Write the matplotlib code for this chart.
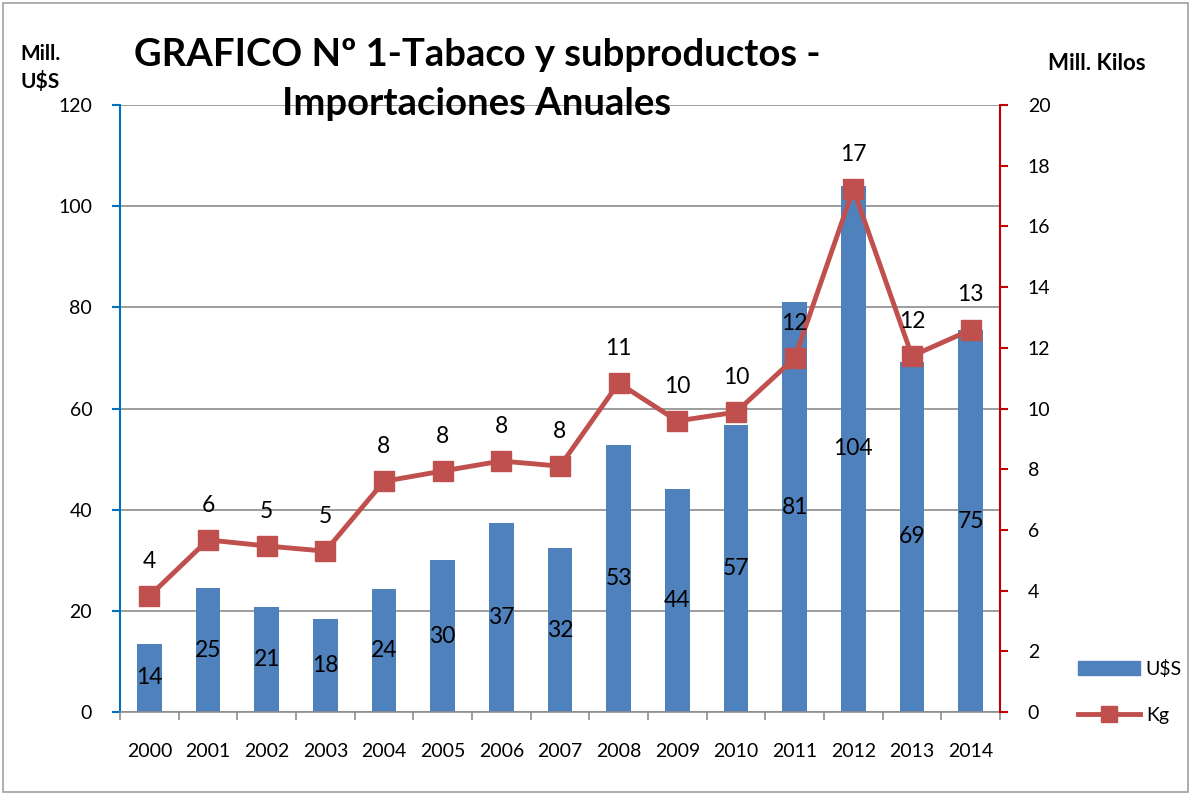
import matplotlib
matplotlib.use("Agg")
import matplotlib.pyplot as plt
from matplotlib.patches import Rectangle
from matplotlib.lines import Line2D

plt.rcParams['font.family'] = ['Lato', 'DejaVu Sans']

years = ['2000', '2001', '2002', '2003', '2004', '2005', '2006', '2007',
         '2008', '2009', '2010', '2011', '2012', '2013', '2014']
usd = [13.5, 24.5, 20.8, 18.4, 24.3, 30.0, 37.4, 32.4, 52.8, 44.1, 56.7, 81.0, 104.0, 69.2, 75.5]
usd_labels = ['14', '25', '21', '18', '24', '30', '37', '32', '53', '44', '57', '81', '104', '69', '75']
kg = [3.82, 5.67, 5.47, 5.30, 7.60, 7.94, 8.27, 8.10, 10.84, 9.59, 9.88, 11.66, 17.23, 11.73, 12.59]
kg_labels = ['4', '6', '5', '5', '8', '8', '8', '8', '11', '10', '10', '12', '17', '12', '13']

BLUE = '#4F81BD'
RED = '#C0504D'

fig = plt.figure(figsize=(11.91, 7.95), dpi=100)
ax = fig.add_axes([120/1191, 1-712/795, 880/1191, 607/795])
ax2 = ax.twinx()

x = list(range(len(years)))
ax.bar(x, usd, width=0.42, color=BLUE, zorder=2)
for xi, v, lab in zip(x, usd, usd_labels):
    ax.text(xi, v/2, lab, ha='center', va='center', fontsize=16.5, color='black', zorder=5)

ax.set_xlim(-0.5, len(years)-0.5)
ax.set_ylim(0, 120)
ax.set_yticks(range(0, 121, 20))
ax.yaxis.grid(True, color='#8C8C8C', linewidth=1.2, zorder=0)
ax.set_axisbelow(True)
ax.set_xticks(x)
ax.set_xticklabels(years, fontsize=14)
ax.set_xticks([i - 0.5 for i in range(len(years)+1)], minor=True)
ax.tick_params(axis='x', which='major', length=0, pad=22)
ax.tick_params(axis='x', which='minor', length=6, color='#8C8C8C', width=1.2)
ax.tick_params(axis='y', labelsize=14, length=6, color='#0070C0', width=1.5, pad=14)
ax.spines['top'].set_visible(False)
ax.spines['left'].set_color('#0070C0')
ax.spines['left'].set_linewidth(1.5)
ax.spines['right'].set_visible(False)
ax.spines['bottom'].set_color('#8C8C8C')
ax.spines['bottom'].set_linewidth(1.2)

ax2.plot(x, kg, color=RED, linewidth=3.5, marker='s', markersize=14, zorder=4)
for xi, v, lab in zip(x, kg, kg_labels):
    ax2.text(xi, v + 1.15, lab, ha='center', va='center', fontsize=16.5, color='black', zorder=5)
ax2.set_ylim(0, 20)
ax2.set_yticks(range(0, 21, 2))
ax2.tick_params(axis='y', labelsize=14, length=6, color='#C00000', width=1.5, pad=14)
ax2.spines['right'].set_color('#C00000')
ax2.spines['right'].set_linewidth(1.5)
for s in ['top', 'left', 'bottom']:
    ax2.spines[s].set_visible(False)
ax2.set_zorder(ax.get_zorder() + 1)
ax2.patch.set_visible(False)

# Titles
fig.text(477/1191, 1-55/795, 'GRAFICO Nº 1-Tabaco y subproductos -', ha='center', va='center',
         fontsize=27.5, fontweight='bold')
fig.text(477/1191, 1-104/795, 'Importaciones Anuales', ha='center', va='center',
         fontsize=27.5, fontweight='bold')
fig.text(40/1191, 1-68/795, 'Mill.\nU$S', ha='center', va='center', fontsize=15,
         fontweight='bold', linespacing=1.4)
fig.text(1097/1191, 1-63/795, 'Mill. Kilos', ha='center', va='center', fontsize=16,
         fontweight='bold')

# Legend
handles = [Rectangle((0, 0), 1, 1, color=BLUE),
           Line2D([0], [0], color=RED, linewidth=3.5, marker='s', markersize=11)]
fig.legend(handles, ['U$S', 'Kg'], loc='center left', bbox_to_anchor=(1070/1191, 1-692/795),
           frameon=False, fontsize=14, handlelength=3.2, labelspacing=1.5, handletextpad=0.3,
           borderaxespad=0)

# Outer border
fig.patches.append(Rectangle((3/1191, 3/795), 1-6/1191, 1-6/795, transform=fig.transFigure,
                             fill=False, edgecolor='#A0A0A0', linewidth=1.2))

fig.savefig('out.png', dpi=100)
